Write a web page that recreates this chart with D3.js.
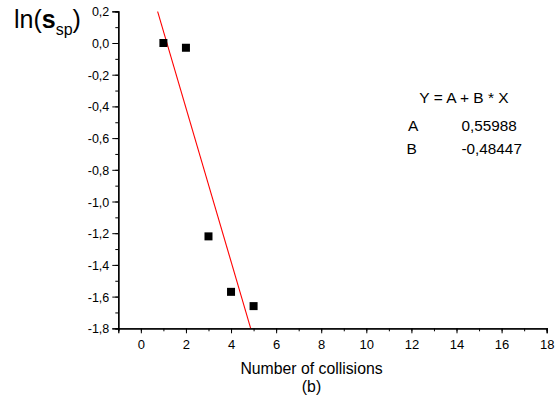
<!DOCTYPE html>
<html><head><meta charset="utf-8">
<script src="https://cdn.jsdelivr.net/npm/d3@7"></script>
<style>body{margin:0;background:#fff}svg{display:block;font-family:Arial,"Liberation Sans",sans-serif}</style>
</head><body>
<svg id="c" width="555" height="402"></svg>
<script>
const collisions = [1, 2, 3, 4, 5];
const lnSsp = [0.0, -0.03, -1.22, -1.57, -1.66];
const fitA = 0.55988;
const fitB = -0.48447;
const xTicks = [0, 2, 4, 6, 8, 10, 12, 14, 16, 18];
const yTicks = [0.2, 0.0, -0.2, -0.4, -0.6, -0.8, -1.0, -1.2, -1.4, -1.6, -1.8];
const xLabel = "Number of collisions";
const subLabel = "(b)";

(function () {
const svg = d3.select("#c");
const pL = 118.3, pR = 546.7, pT = 11.3, pB = 328.3;
const x = d3.scaleLinear().domain([-1, 18]).range([pL, pR]);
const y = d3.scaleLinear().domain([-1.8, 0.2]).range([pB, pT]);
const fmt1 = v => d3.format(".1f")(v).replace(".", ",").replace("−", "-");
const fmt5 = v => d3.format(".5f")(v).replace(".", ",").replace("−", "-");

const gx = svg.append("g").attr("transform", `translate(0,${pB})`);
gx.call(d3.axisBottom(x).tickValues(d3.range(-1, 19, 1)).tickSize(3).tickFormat(""));
gx.append("g").call(d3.axisBottom(x).tickValues(xTicks).tickSize(5).tickFormat(d => d));
gx.selectAll(".domain").attr("stroke", "#000").attr("stroke-width", 1.3);
gx.selectAll("line").attr("stroke", "#000");
gx.selectAll("text").attr("font-size", 13).attr("fill", "#000").attr("y", 21).attr("dy", 0);

const gy = svg.append("g").attr("transform", `translate(${pL},0)`);
gy.call(d3.axisLeft(y).tickValues(d3.range(-18, 3, 1).map(v => v / 10)).tickSize(3).tickFormat(""));
gy.append("g").call(d3.axisLeft(y).tickValues(yTicks).tickSize(6).tickFormat(fmt1));
gy.selectAll(".domain").attr("stroke", "#000").attr("stroke-width", 1.3);
gy.selectAll("line").attr("stroke", "#000");
gy.selectAll("text").attr("font-size", 12.5).attr("fill", "#000").attr("x", -9).attr("dy", "0.36em");

svg.append("clipPath").attr("id", "clip").append("rect")
  .attr("x", pL).attr("y", pT).attr("width", pR - pL).attr("height", pB - pT);
const xs = [(0.2 - fitA) / fitB, (-1.8 - fitA) / fitB];
svg.append("line").attr("clip-path", "url(#clip)")
  .attr("x1", x(xs[0])).attr("y1", y(fitA + fitB * xs[0]))
  .attr("x2", x(xs[1])).attr("y2", y(fitA + fitB * xs[1]))
  .attr("stroke", "#ff0000").attr("stroke-width", 1.1);

const s = 8;
svg.selectAll("rect.pt").data(collisions).enter().append("rect").attr("class", "pt")
  .attr("x", (d) => x(d) - s / 2).attr("y", (d, i) => y(lnSsp[i]) - s / 2)
  .attr("width", s).attr("height", s).attr("fill", "#000");

const yl = svg.append("text").attr("x", 14).attr("y", 28).attr("font-size", 25).attr("fill", "#000");
yl.append("tspan").text("ln(");
yl.append("tspan").attr("font-weight", "bold").text("s");
yl.append("tspan").attr("font-size", 16).attr("dy", 7).text("sp");
yl.append("tspan").attr("dy", -7).text(")");

svg.append("text").attr("x", 311.5).attr("y", 374).attr("text-anchor", "middle").attr("font-size", 15.8).text(xLabel);
svg.append("text").attr("x", 311.5).attr("y", 392).attr("text-anchor", "middle").attr("font-size", 15.8).text(subLabel);

svg.append("text").attr("x", 464).attr("y", 103).attr("text-anchor", "middle").attr("font-size", 15.5).text("Y = A + B * X");
svg.append("text").attr("x", 408).attr("y", 131).attr("font-size", 15.5).text("A");
svg.append("text").attr("x", 461.5).attr("y", 131).attr("font-size", 15.3).text(fmt5(fitA));
svg.append("text").attr("x", 406.5).attr("y", 154).attr("font-size", 15.5).text("B");
svg.append("text").attr("x", 461.5).attr("y", 154).attr("font-size", 15.3).text(fmt5(fitB));
})();
</script>
</body></html>
